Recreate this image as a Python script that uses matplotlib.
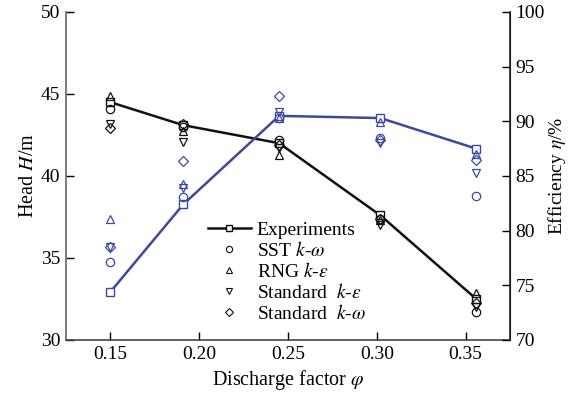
import matplotlib
matplotlib.use("Agg")
import matplotlib.pyplot as plt
from matplotlib.lines import Line2D

plt.rcParams['font.family'] = ['Liberation Serif', 'DejaVu Serif']
plt.rcParams['mathtext.fontset'] = 'stix'

phi = [0.150, 0.191, 0.245, 0.302, 0.356]

H_exp = [44.5, 43.1, 42.0, 37.6, 32.5]
H_sst = [44.1, 43.0, 42.2, 37.4, 31.7]
H_rng = [44.9, 42.75, 41.3, 37.3, 32.85]
H_ske = [43.2, 42.05, 41.7, 37.0, 32.0]
H_skw = [42.95, 43.15, 41.9, 37.4, 32.25]

eta_exp = [74.4, 82.4, 90.5, 90.3, 87.5]
eta_sst = [77.1, 83.1, 90.3, 88.5, 83.2]
eta_rng = [81.1, 84.3, 90.3, 89.9, 87.0]
eta_ske = [78.5, 83.9, 90.85, 88.0, 85.3]
eta_skw = [78.5, 86.4, 92.3, 88.3, 86.5]

x_ticks = [0.15, 0.20, 0.25, 0.30, 0.35]
h_ticks = [30, 35, 40, 45, 50]
eta_ticks = [70, 75, 80, 85, 90, 95, 100]

labels = ['Experiments', 'SST $k$-$\\omega$', 'RNG $k$-$\\varepsilon$',
          'Standard  $k$-$\\varepsilon$', 'Standard  $k$-$\\omega$']

BLACK = '#111111'
BLUE = '#3b4a9e'
ms = 6

fig = plt.figure(figsize=(5.74, 4.0), dpi=100)
ax = fig.add_axes([0.115, 0.15, 0.7735, 0.82])
ax2 = ax.twinx()

# Head (black)
ax.plot(phi, H_exp, '-s', color=BLACK, mfc='white', mec=BLACK, ms=ms, lw=1.8, zorder=3)
ax.plot(phi, H_sst, 'o', color=BLACK, mfc='none', ms=ms, mew=0.9, zorder=4)
ax.plot(phi, H_rng, '^', color=BLACK, mfc='none', ms=ms, mew=0.9, zorder=4)
ax.plot(phi, H_ske, 'v', color=BLACK, mfc='none', ms=ms, mew=0.9, zorder=4)
ax.plot(phi, H_skw, 'D', color=BLACK, mfc='none', ms=ms-1, mew=0.9, zorder=4)

# Efficiency (blue)
ax2.plot(phi, eta_exp, '-s', color=BLUE, mfc='white', mec=BLUE, ms=ms, lw=1.8, zorder=3)
ax2.plot(phi, eta_sst, 'o', color=BLUE, mfc='none', ms=ms, mew=0.9, zorder=4)
ax2.plot(phi, eta_rng, '^', color=BLUE, mfc='none', ms=ms, mew=0.9, zorder=4)
ax2.plot(phi, eta_ske, 'v', color=BLUE, mfc='none', ms=ms, mew=0.9, zorder=4)
ax2.plot(phi, eta_skw, 'D', color=BLUE, mfc='none', ms=ms-1, mew=0.9, zorder=4)

ax.set_xlim(0.125, 0.375)
ax.set_ylim(30, 50)
ax2.set_ylim(70, 100)
ax.set_xticks(x_ticks)
ax.set_xticklabels([f'{v:.2f}' for v in x_ticks])
ax.set_yticks(h_ticks)
ax2.set_yticks(eta_ticks)

for a in (ax, ax2):
    a.spines['top'].set_visible(False)
    a.tick_params(direction='in', labelsize=14, length=6, width=1.0, pad=4)
ax.spines['left'].set_color('#666666')
ax.spines['bottom'].set_color('#444444')
ax.spines['left'].set_linewidth(1.2)
ax.spines['bottom'].set_linewidth(1.2)
ax2.spines['right'].set_color('#222222')
ax2.spines['right'].set_linewidth(1.2)
ax2.spines['left'].set_visible(False)
ax2.spines['bottom'].set_visible(False)

ax.set_xlabel('Discharge factor $\\varphi$', fontsize=14.5, labelpad=4)
ax.set_ylabel('Head $H$/m', fontsize=14.5, labelpad=2)
ax2.set_ylabel('Efficiency $\\eta$/%', fontsize=14, labelpad=1)

handles = [
    Line2D([], [], color=BLACK, marker='s', mfc='white', mec=BLACK, ms=5, lw=1.8),
    Line2D([], [], color=BLACK, marker='o', mfc='none', ms=4.5, lw=0, mew=0.8),
    Line2D([], [], color=BLACK, marker='^', mfc='none', ms=4.5, lw=0, mew=0.8),
    Line2D([], [], color=BLACK, marker='v', mfc='none', ms=4.5, lw=0, mew=0.8),
    Line2D([], [], color=BLACK, marker='D', mfc='none', ms=4, lw=0, mew=0.8),
]
leg = ax.legend(handles, labels, loc='center left', bbox_to_anchor=(0.32, 0.207),
                frameon=False, fontsize=14, handlelength=2.2, handletextpad=0.3,
                labelspacing=0.1, borderpad=0, borderaxespad=0)
leg.set_zorder(10)

fig.savefig('out.png', dpi=100)
